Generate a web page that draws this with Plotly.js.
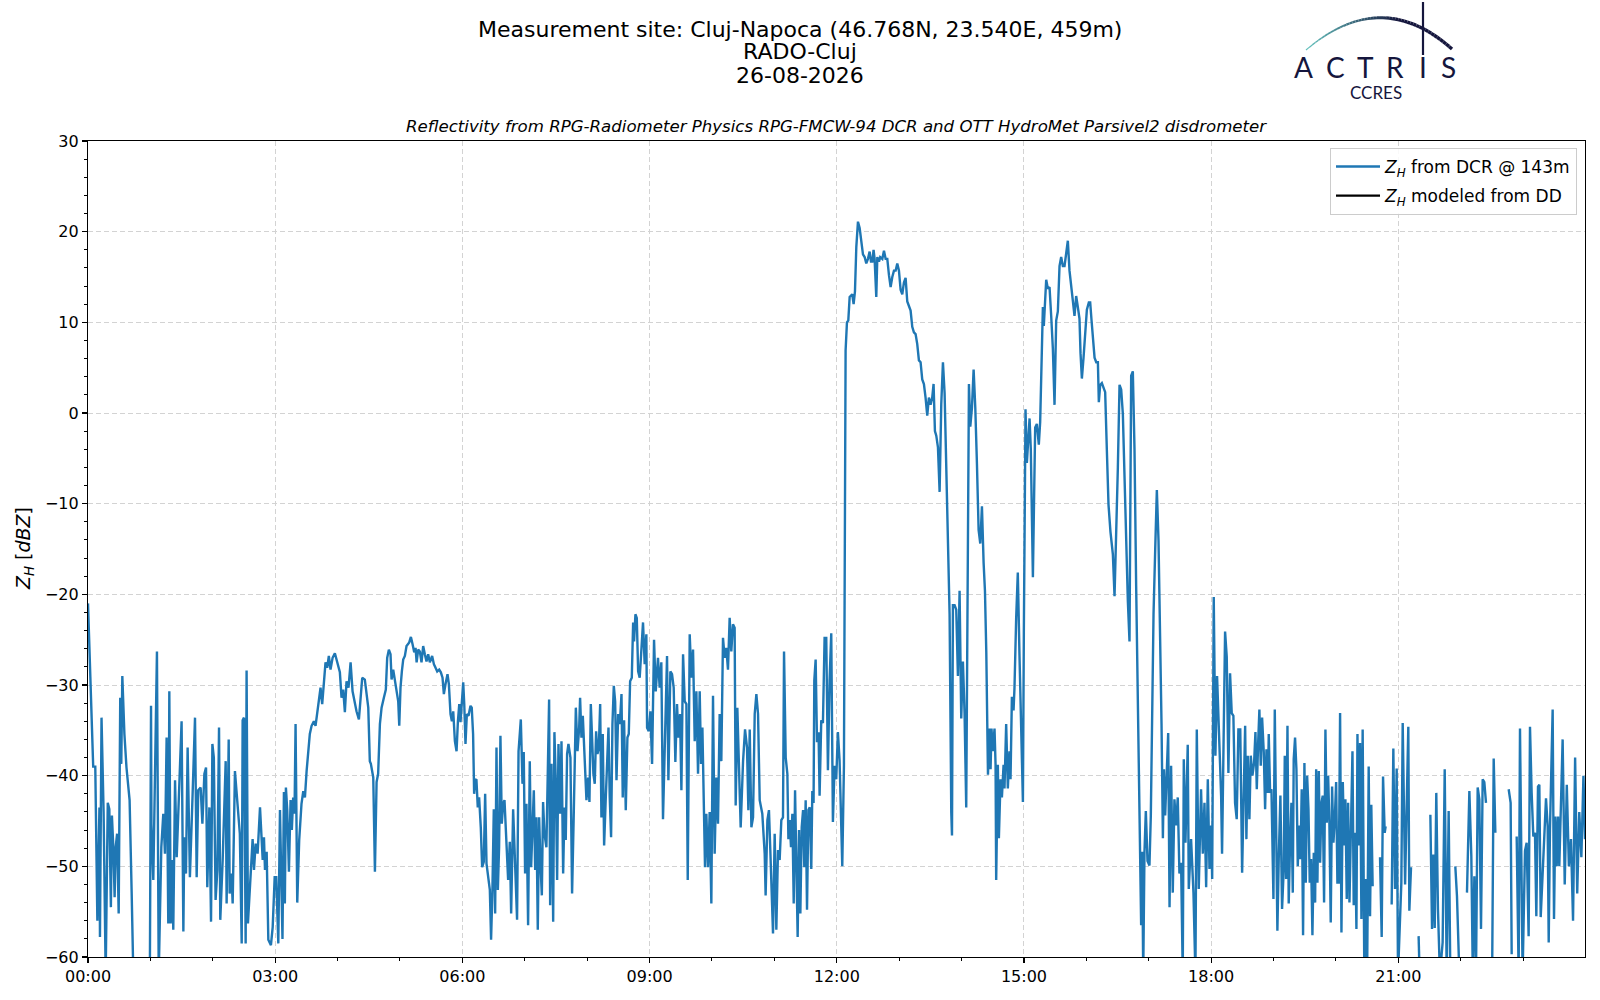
<!DOCTYPE html>
<html>
<head>
<meta charset="utf-8">
<script src="https://cdn.plot.ly/plotly-3.0.1.min.js"></script>
<style>
  body { margin: 0; background: #ffffff; }
  #chart { width: 1600px; height: 1000px; }
</style>
</head>
<body>
<div id="chart"></div>
<script>
// Minutes after 00:00 and Z_H [dBZ], split by stretch of the day.
// Values below -60 run off the bottom of the axis, null marks a gap in the record.
const timeA = [0,5,7,9,11,11.5,13,15,17,19,
  20.5,22,23,24.4,25.6,26.6,28,29.5,31,32,
  33,35,37,40,42,43.6,50,59];
const zhA = [-21,-39,-39,-56,-43.5,-57.8,-33.6,-44,-62,-43,
  -43.7,-54.5,-44.4,-48,-53.4,-47.9,-46.4,-55.2,-31.4,-38.7,
  -29,-35.4,-39.1,-42.7,-53,-62,-75,-75];

const timeB = [60.6,61,62.8,66.3,68,70.5,72.4,74,75.6,77.2,
  78.2,79.5,80.8,82,83.7,85.3,90,91.7,92.6,94.2,
  95.8,98,100.6,102.9,104.5,106,108.3,110,111.9,113.5,
  114.7,116.7,118.3,119.6,121,122.7,124.4,126,127.2,129.5,
  132.4,133.3,135.3,136.2,138,139.1,141.3,142.3,146,147.8,
  148.7,150,151.6,152.5,153.8,158.3,159.6,161.2,163.1,165.4,
  167,168,169.2,170.2,171.8,173.4,175.9,177.6,179.5,181,
  183,184.6];
const zhB = [-32.3,-45.3,-51.5,-26.3,-62,-47.9,-44.2,-48.6,-35.8,-56.3,
  -30.7,-56.3,-49.3,-57,-40.5,-49,-34,-57.2,-46.8,-50.8,
  -36.9,-51.2,-42,-33.6,-51.2,-41.6,-41.3,-45.3,-39.8,-39.1,
  -52.3,-43.5,-56.1,-36.5,-38,-53.7,-50.4,-34.7,-55.9,-49.3,
  -38.4,-54.1,-36,-53,-50.8,-54.1,-39.5,-40.9,-46.4,-58.5,
  -33.9,-33.6,-58.5,-28.4,-56.3,-47,-50.4,-47.5,-48.6,-43.5,
  -46.8,-49.3,-46.8,-50.4,-48.4,-58.1,-58.7,-56.7,-51.2,-51.2,
  -58.5,-43.8];

const timeC = [187,188.4,189.3,190.3,191.6,193.2,194.8,196,197.3,198.6,
  199.6,201.2,203.1,205.3,207,208.6,210.2,211.8,213.3,215,
  217.2,218.8,220.4,222.3,223.6,225.2,226.8,228.4,230,231.6,
  233.2,235.2,237.4,239.6,242.2,243.8,245.4,247,248.6,250.5,
  252.5,254.4,256,258.2,260.5,262,263.7,266.2,267.9,269.5,
  271,272,274.3,275.9,277.5,279,280.7,282.3,284.5,286.4,
  287.7,289.3,290.9,291.9,293.5,295.1,296.7,298.3,299.3,300.5,
  301.8,303.1,304.7,306.3,308.9,310.5,312.1,313.7,315,316,
  317.5,319.1,320.7,322.3,323.9,325.5,327.1,328.7,330.9,332.6,
  334.2,335.8,337.7,339.3,340.9,342.2,343.8,345.7,347,348.6,
  349.9,351.2,352.8,354.4,355.7,357,358.2,359.5,360.8,361.8,
  363,364.3,365.9];
const zhC = [-58,-41.8,-54.1,-41.3,-43.8,-50.6,-42.7,-46,-42.4,-44.2,
  -34.3,-54,-47.1,-43.1,-41.7,-42.4,-39.5,-37.3,-35.4,-34.5,
  -34,-34.5,-33.2,-31.4,-30.3,-32.1,-29.6,-27.5,-28.1,-26.8,
  -28.3,-27,-26.5,-27.4,-28.6,-31.4,-30.5,-33,-29.6,-30.3,
  -27.5,-30.7,-31.8,-32.9,-33.8,-31.4,-29.2,-29.4,-31.4,-32.5,
  -38.4,-38.7,-40.2,-50.6,-40.7,-39.8,-34.3,-32.5,-31.4,-30.5,
  -27,-26.1,-26.6,-29.4,-28.3,-29.4,-30.3,-31.8,-34.5,-30.3,
  -28.5,-27.2,-26.8,-25.7,-25.3,-24.7,-25.5,-26.4,-25.9,-27.5,
  -26.1,-26.3,-27.5,-25.7,-26.6,-27.4,-26.6,-27.5,-26.8,-27.7,
  -28.1,-28.5,-28.3,-28.6,-29.2,-31,-29.9,-28.8,-29.9,-33.2,
  -34,-32.9,-36.2,-37.3,-34,-32.1,-34.1,-32.1,-29.7,-32.1,
  -36.5,-33.2,-33.4];

const timeD = [367.8,369,370.3,371.3,372.3,373.5,374.8,376.1,377.7,379,
  380.6,381.9,383.2,386.4,387.6,388.9,390.2,391.5,392.8,394.1,
  395.3,396.6,397.9,399.2,400.5,402.4,404,405.6,406.9,408.8,
  410.7,412.6,414,416.2,417.8,419,420.3,421.6,423.2,424.8,
  426.1,427.4,428.7,430,431.2,432.5,433.8,435.1,436.4,437.6,
  438.9,440.8,442.1,443.4,444.4,445.7,447.3,448.5,449.8,451.1,
  452.4,454,455.3,456.9,458.2,459.4,460.7,462,463.9,465.5,
  467.1,469.1,470.7,472.3,473.2,474.5,475.8,477.7,479.3,480.9,
  482.2,483.5,484.8,486,487.3,488.6,489.9,491.2,492.5,493.7,
  495,496.3,497.9,499.2,500.5,501.7,503,504.3,505.6,506.9,
  508.2,509.8,511.4,513,514.2,515.5,517.1,518.7,520,521.3,
  522.9,524.2,525.1,526.4,527.7,529];
const zhD = [-32.3,-32.5,-35.4,-42,-40.5,-40.4,-43.5,-42.4,-45.7,-50.1,
  -49.5,-42,-49.7,-52.6,-58.1,-52.6,-43.7,-55.2,-36.9,-52.6,
  -47.9,-35.6,-45.3,-43.1,-42.7,-47.9,-51.5,-47.3,-55.2,-43.7,
  -49,-55.9,-37.3,-33.8,-40.9,-37.4,-50.8,-43.1,-56.5,-38.4,
  -50.1,-46,-41.6,-50.4,-44.6,-57,-44.6,-49.7,-53.2,-42.9,
  -46.4,-47.9,-40.5,-31.6,-54.3,-38.7,-56.1,-35.2,-40.5,-51.5,
  -36.5,-44.2,-36.2,-50.8,-43.5,-47.1,-37.6,-36.5,-38,-53,
  -44.2,-32.5,-37.3,-34.7,-31.4,-35.8,-33.4,-39.1,-42.7,-40.2,
  -42.9,-32.1,-36.9,-39.8,-40.9,-35.1,-37.6,-36.9,-32.1,-44.6,
  -35.4,-47.7,-42.4,-39.1,-34.7,-42.4,-46.8,-34.3,-30.1,-31.8,
  -40.5,-33.2,-34.3,-31,-42.4,-33.9,-43.8,-35.8,-35.4,-29.6,
  -29.2,-23.1,-25.2,-22.2,-22.6,-28.5];

const timeE = [530.5,533.7,535.3,536.9,537.6,539.2,540.8,542.4,544.3,545.9,
  548.1,549.7,551.3,552.9,554.5,556.8,558.1,560,561.6,563.2,
  564.8,566.4,567.7,569.3,570.6,572.2,573.8,575.4,576.7,578.6,
  580.2,581.8,583.4,585,586.6,588.2,589.5,590.8,592.1,593.3,
  594.6,596.2,597.8,599.4,601,602.6,604.2,605.8,607.4,609,
  610.6,612.2,613.8,615.4,617,618.6,620.2,621.8,622.8,624.4,
  626,627.6,629.9,631.8,633.7,635,636.3,637.9,639.5,641.1,
  642.7,644.3,645.9,648.4,650.7,651.6,653.3,654.8,656.1,657.4,
  658.7,660.3,661.9,663.5,665.1,666.7,668.3,669.3,670.9,672.5,
  673.5,674.7,676,677.3,678.6,679.9,681.2,682.4,683.7,685,
  686.3,687.6,688.8,690.1,691.4,692.7];
const zhE = [-29.2,-23.1,-27.7,-24.4,-34.7,-35.1,-32.9,-38.7,-25,-30.7,
  -27,-30.3,-27.5,-44.8,-36.9,-26.8,-40.5,-28.5,-28.8,-30.3,
  -38.5,-32.1,-35.8,-33.2,-41.6,-26.6,-31.8,-32.1,-51.5,-24.4,
  -29.2,-26.1,-36.2,-30.7,-39.8,-30.7,-38.7,-34.7,-42.7,-50.1,
  -44.2,-50.1,-44,-54.1,-31.2,-48.6,-40.2,-45.3,-33.2,-38.4,
  -24.8,-27,-25.9,-28.3,-22.6,-26.3,-23.3,-23.7,-43.3,-32.5,
  -39.1,-45.7,-38.4,-34.9,-36.9,-43.8,-34.9,-45.7,-44.6,-33.2,
  -31,-33.2,-42.7,-44.2,-48.6,-53.2,-44.9,-43.8,-48.2,-53.7,
  -57.4,-46.4,-57,-48.2,-49.3,-44.9,-44.6,-26.3,-38,-39.8,
  -47,-44.9,-47.9,-44.2,-54.1,-41.6,-52.6,-57.8,-46,-55.2,
  -45.7,-43.8,-50.1,-42.7,-54.8,-43.8];

const timeF = [694,695.5,696.5,697.7,698.4,699.7,701,702.5,703.5,705.1,
  706.7,708.3,709.9,711.5,713.1,714.7,716.3,717.9,719.5,721.1,
  722.7,724,725.3,726.9,727.9,728.5,729.8,731.1,732.4,734.9,
  736.2,737.5,738.8,740.4,742,743.6,745.2,746.8,748.4,750,
  751.6,752.9,754.2,755.4,756.4,758,759,760.6,761.8,763.8,
  765.4,767,768.6,770.2,771.8,773.4,775,776.6,778.2,779.8,
  781.4,783,784.6,786.2,787.8,789.4,791,792.6,794.2,795.8,
  797.4,799,800.6,802.2,803.8,805.4,807,808.6,810.2,811.8,
  813.1,814.4,815.7,817.3,818.9,820.5,822.1,823.7,825.3,826.9,
  828.5,830.1,830.8,831.7,833.3,834.9,836.5,838.1,839.7,841.3,
  842.9,844.5,846.1,847.1,848.4,850,851.6,853.2,854.8,856.4,
  858,859.6,861.2,862.5,863.8,865.4];
const zhF = [-43.5,-50.3,-41.7,-43,-29.5,-27.2,-36.3,-35.2,-42.2,-33.9,
  -34.2,-24.8,-24.8,-39.4,-29.5,-24.3,-45.1,-38.9,-40.4,-35.2,
  -38.3,-44.6,-50,-38.9,-12.9,6.9,10,10.2,12.8,13.1,
  12,13.4,18.3,21.1,20.4,18.8,17.5,17.2,16.5,17,
  17.8,16.7,16.7,18,17,12.8,17.2,16.7,17.2,17,
  17.9,17,17,15.2,13.9,15,15.7,15.7,16.5,15.7,
  13.6,13.1,14.4,14.9,12.3,11.8,11.3,9.5,8.9,8.7,
  7.6,5.8,5.6,3.7,3.2,1.7,-0.3,1.7,0.9,1.7,
  3.2,-2,-2.5,-3.8,-8.7,1,5.6,2.2,-6.6,-11.8,
  -22.2,-44,-46.6,-21.2,-21.2,-21.7,-29,-19.6,-33.7,-27.4,
  -33.1,-43.5,-7.7,3.2,-1.5,0.6,4.8,0.6,-5.6,-12.9,
  -14.4,-10.3,-16.5,-19.6,-26.4,-39.9];

const timeG = [866.9,867.9,868.8,870.1,871.7,872.7,873.3,874.9,875.9,877.5,
  878.8,880.4,881.3,882.9,884.5,886.1,887.1,888.4,890,890.9,
  892.5,894.1,895.7,897.3,899,899.9,900.6,901.5,902.8,904.1,
  905.4,906.6,907.6,908.6,909.8,910.8,912.4,914.3,915.6,916.9,
  918.2,919.1,920.1,921.4,923,924.6,926.2,927.8,929.4,931,
  932.6,934.2,935.8,937.4,939,940.6,942.2,943.8,945.4,947,
  948.6,950.2,951.8,953.4,954.4,955.7,957.3,958.9,960.5,962.4,
  963.7,965,966.3,967.9,969.5,971.1,972,973.3,974.9,976.5,
  978.1,979.7,981.3,983.2,985.5,987.1,988.7,990.3,991.9,993.5,
  995.1,996.7,998.3,999.9,1001.5,1003.1,1004.7,1006.3,1007.9,1009.5,
  1011.1,1012.7,1013.7,1014.7,1015.9,1017.2,1018.8,1020.7,1022,1023.3,
  1024.6,1026.2,1027.8,1029.4,1031,1032.3,1033.6,1034.6,1035.8,1037.4,
  1038.7,1040];
const zhG = [-34.8,-39.3,-34.8,-37.3,-34.8,-38.8,-51.5,-38.8,-46.9,-40.4,
  -42.4,-38.8,-41.4,-34.3,-41.4,-37.3,-40.4,-31.3,-32.8,-30.3,
  -22.7,-17.6,-26.7,-33.8,-42.9,-24.2,-11.7,0.4,-5.5,-2.6,
  -0.6,-4,-11.6,-18.1,-9,-1.6,-1.2,-3.5,-1,6.1,
  11.7,9.6,12.2,14.7,13.7,13.9,10.7,7.1,0.9,10.2,
  11.2,16.2,17.2,16.2,16.2,17.7,19,15.7,13.7,12.4,
  10.7,12.9,11.7,10.4,6.6,3.8,6.1,9.1,11.4,12.2,
  12.2,10.2,8.1,6.1,5.6,5.6,1.2,3.1,3.3,2.8,
  2.3,-4,-10.1,-13.1,-15.6,-20.2,-14.1,-6,3.1,2.6,
  -0.1,-7,-15.1,-20.7,-25.2,4.1,4.6,-4,-19.1,-31.8,
  -44.4,-56.5,-48.4,-62,-48.4,-43.9,-49.4,-49.9,-44.4,-29.2,
  -22.2,-15.1,-8.5,-14.1,-24.2,-34.3,-46.9,-39.3,-44.4,-38.3,
  -35.3,-54.5];

const timeH = [1041.5,1043.1,1044.7,1046.3,1047.9,1049.5,1051.1,1052.7,1053.7,1055.3,
  1057.5,1058.5,1060.7,1063,1064.9,1066.2,1068.1,1070.3,1072,1073.6,
  1075.2,1076.8,1078.4,1080,1081,1082.5,1084.1,1085.7,1088,1089.6,
  1090.5,1092.1,1093.4,1095,1096.6,1098.2,1099.8,1101.4,1103,1104.6,
  1106.2,1108,1109.8,1111,1112.7,1113.9,1115.2,1116.8,1118.1,1119.7,
  1121.3,1122.6,1123.9,1125.2,1126.4,1127.7,1129,1130.6,1131.9,1133.2,
  1134.5,1135.4,1136.7,1138,1139.9,1141.2,1142.5,1143.7,1145,1146.6,
  1148.2,1149.8,1150.8,1152.1,1153.4,1154.6,1155.9,1157.2,1158.5,1159.4,
  1160.7,1162,1163.3,1164.6,1165.9,1167.1,1168.4,1169.7,1171,1172.3,
  1173.6,1174.8,1176.1,1177.4,1178.7,1180,1181,1182.2,1183.5,1184.8,
  1186.1,1187.3,1188.6,1189.9,1191.2,1192.5,1193.7,1195,1196.3,1197.6,
  1198.9,1200.2,1201.4,1202.7,1204,1205.3,1206.6,1207.9,1209.1,1210.4,
  1211.7,1213,1214.6,1215.9,1217.1,1218.4,1219.7,1220.7,1222];
const zhH = [-38.9,-52.9,-42.6,-45.5,-42.4,-50.8,-49.6,-62,-38.2,-47.4,
  -36.6,-52.5,-47,-52.9,-62,-34.9,-52.5,-41.5,-48.6,-43,
  -52.3,-40.4,-50.3,-45.5,-51.4,-20.3,-37.8,-29,-36.4,-42.2,
  -48.6,-32,-24.1,-26.9,-39.7,-28.7,-33.1,-33.4,-43,-44.8,
  -34.9,-34.9,-50.7,-43.7,-34.5,-47,-37.8,-44.8,-37.8,-40,
  -38.6,-35.2,-41.5,-36.4,-32.7,-38.9,-33.6,-37.4,-43.7,-37.1,
  -41.9,-35.4,-41.9,-41.5,-53.6,-32.7,-49.6,-57.1,-49.2,-42.2,
  -54.7,-50.3,-37.8,-51.4,-34.5,-54.1,-47.4,-43,-52.9,-38.2,
  -35.8,-39.3,-50,-45.5,-49.2,-41.5,-57.6,-38.6,-51.8,-40,
  -43.7,-51.8,-49.2,-57.6,-48.5,-54,-39.3,-51.8,-39.5,-49.6,
  -43,-42.2,-54,-34.9,-45.2,-40,-45.2,-56.2,-41.2,-47.4,
  -44.8,-40.7,-51.8,-51.8,-33.1,-57.3,-40.7,-47.7,-42.6,-53.6,
  -43,-54,-44.8,-37.3,-54.3,-46.3,-56.9,-35.4,-47.7];

const timeI = [1223.2,1224.5,1225.7,1227.3,1228.9,1230,1231.5,1232.8,1234,1235.3,
  1238,1242.4,1244,1245.3,1246.9,1247.8,1250,1253.6,1255.2,1256.8,
  1258.4,1259.7,1262.9,1264.2,1266.5,1269.6,1270.6,1272.2,1275,1279.5,
  1280.5,1284,1290.8,1292.4,1293.7,1295,1296.5,1298.1,1300,1302.6,
  1304.6,1306.5,1308.4,1310,1312,1314.8,1316.4,1318.7,1322,1326,
  1328.3,1330.2,1331.6,1333.1,1334.7,1336.3,1337.9,1339.5,1341.1,1342.7,
  1344.3,1347,1350.2,1351.7,1353.3,1357,1366.1,1368,1369,1371,
  1373.8,1375.7,1377,1379.5,1381.8,1383.4,1385.3,1386.6,1388.2,1389.8,
  1391.4,1392.7,1394.3,1395.6,1396.9,1398.2,1399.5,1400.7,1402,1403.6,
  1404.6,1405.8,1407.1,1408.4,1409.7,1411,1412.3,1413.6,1414.8,1416,
  1418,1420,1422,1424,1426,1428,1430,1432,1434,1436,
  1438,1439.5];
const zhI = [-36.4,-55.8,-34.9,-62,-51.4,-62,-39,-55.5,-43.2,-52.2,
  null,-49,-57.8,-40.1,-46.3,-45.6,null,-54.2,-37,-52.5,
  -39.2,-62,-51.8,-34.2,-52,-34.6,-54.9,-50.1,null,-57.7,
  -62,null,-44.3,-56.9,-48.7,-56.8,-41.9,-54.7,-62,-58.4,
  -39.3,-62,-43.9,-62,null,-50,-53.3,-62,null,-52.9,
  -41.7,-48.9,-62,-51.1,-62,-41.3,-42.6,-56.9,-40.4,-40.7,
  -43,null,-62,-38.1,-46.3,null,-41.5,-43,-59.7,null,
  -46.7,-62,-34.8,-62,-48.3,-47.4,-57.7,-34.6,-41.9,-46.7,
  -46.3,-55.5,-41.2,-41,-55.6,-52.2,-47.8,-44.5,-42.5,-45.6,
  -58.4,-46,-40.1,-32.7,-55.8,-44.5,-50,-44.5,-50,-45,
  -36,-52,-41,-50,-47,-56,-38,-53,-44,-49,
  -40,-47];

const tickHours = ['00:00','03:00','06:00','09:00','12:00','15:00','18:00','21:00'];
const logoLetters = ['A','C','T','R','I','S'];

const dayStart = Date.UTC(2026, 7, 26);
const minutes = [].concat(timeA, timeB, timeC, timeD, timeE, timeF, timeG, timeH, timeI);
const zhDcr = [].concat(zhA, zhB, zhC, zhD, zhE, zhF, zhG, zhH, zhI);
const xTimes = minutes.map(m => dayStart + m * 60000);

// Plot box in page pixels (left, right, top, bottom).
const L = 88, R = 1585, T = 141, B = 957;
function fx(px) { return (px - L) / (R - L); }
function fy(py) { return (B - py) / (B - T); }

const navy = '#15163d';

// ACTRIS logo arc, teal fading into navy.
const shapes = [];
const N = 48;
function bez(t) {
  const p0 = [1306, 50], c = [1381, -14], p2 = [1452, 49];
  const u = 1 - t;
  return [u*u*p0[0] + 2*u*t*c[0] + t*t*p2[0], u*u*p0[1] + 2*u*t*c[1] + t*t*p2[1]];
}
for (let i = 0; i < N; i++) {
  const t0 = i / N, t1 = (i + 1) / N;
  const a = bez(t0), b = bez(t1);
  const k = Math.min(1, t0 / 0.62);
  const r = Math.round(98 + (21 - 98) * k);
  const g = Math.round(192 + (22 - 192) * k);
  const bl = Math.round(188 + (61 - 188) * k);
  shapes.push({
    type: 'line', xref: 'paper', yref: 'paper',
    x0: fx(a[0]), y0: fy(a[1]), x1: fx(b[0]), y1: fy(b[1]),
    line: {color: 'rgb(' + r + ',' + g + ',' + bl + ')', width: 1.2 + 2.2 * Math.min(1, t0 / 0.6)}
  });
}
shapes.push({
  type: 'line', xref: 'paper', yref: 'paper',
  x0: fx(1423), y0: fy(2), x1: fx(1423), y1: fy(55),
  line: {color: navy, width: 2.2}
});

const annotations = [
  {text: 'Measurement site: Cluj-Napoca (46.768N, 23.540E, 459m)', x: fx(800), y: fy(29), size: 22},
  {text: 'RADO-Cluj', x: fx(800), y: fy(52), size: 22},
  {text: '26-08-2026', x: fx(800), y: fy(75), size: 22},
  {text: '<i>Reflectivity from RPG-Radiometer Physics RPG-FMCW-94 DCR and OTT HydroMet Parsivel2 disdrometer</i>', x: 0.5, y: fy(126), size: 16.6}
].map(a => ({
  text: a.text, x: a.x, y: a.y, xref: 'paper', yref: 'paper',
  xanchor: 'center', yanchor: 'middle', showarrow: false,
  font: {family: 'DejaVu Sans', size: a.size, color: 'black'}
}));

annotations.push({
  text: '<i>Z</i><sub><i>H</i></sub> [<i>dBZ</i>]',
  x: fx(24), y: 0.5, xref: 'paper', yref: 'paper',
  xanchor: 'center', yanchor: 'middle', textangle: -90, showarrow: false,
  font: {family: 'DejaVu Sans', size: 19, color: 'black'}
});

// Logo lettering.
const letterX = [1303, 1335, 1365, 1395, 1423, 1448];
for (let i = 0; i < logoLetters.length; i++) {
  annotations.push({
    text: logoLetters[i], x: fx(letterX[i]), y: fy(67), xref: 'paper', yref: 'paper',
    xanchor: 'center', yanchor: 'middle', showarrow: false,
    font: {family: 'Lato', size: 28, color: navy}
  });
}
annotations.push({
  text: 'CCRES', x: fx(1376), y: fy(93), xref: 'paper', yref: 'paper',
  xanchor: 'center', yanchor: 'middle', showarrow: false,
  font: {family: 'Lato', size: 17, color: navy}
});

const data = [
  {
    x: xTimes, y: zhDcr, type: 'scatter', mode: 'lines',
    name: '<i>Z</i><sub><i>H</i></sub> from DCR @ 143m',
    legendgroup: 'dcr',
    line: {color: '#1f77b4', width: 2.4},
    connectgaps: false, hoverinfo: 'skip'
  },
  {
    x: [dayStart, dayStart], y: [null, null], type: 'scatter', mode: 'lines',
    name: '<i>Z</i><sub><i>H</i></sub> modeled from DD',
    legendgroup: 'dd',
    line: {color: 'black', width: 2.4}
  }
];

const axisCommon = {
  showline: true, mirror: true, linecolor: 'black', linewidth: 1.1,
  ticks: 'outside', ticklen: 5, tickwidth: 1.1, tickcolor: 'black',
  showgrid: true, gridcolor: '#d3d3d3', gridwidth: 1, griddash: '5px,3px',
  zeroline: false,
  tickfont: {family: 'DejaVu Sans', size: 16, color: 'black'}
};

const layout = {
  width: 1600, height: 1000,
  margin: {l: L, r: 1600 - R, t: T, b: 1000 - B},
  paper_bgcolor: 'white', plot_bgcolor: 'white',
  font: {family: 'DejaVu Sans', size: 16, color: 'black'},
  showlegend: true,
  legend: {
    x: fx(1577), y: fy(148), xanchor: 'right', yanchor: 'top',
    bgcolor: 'rgba(255,255,255,0.85)', bordercolor: '#cccccc', borderwidth: 1,
    font: {family: 'DejaVu Sans', size: 17, color: 'black'},
    traceorder: 'grouped', tracegroupgap: 4, itemwidth: 44
  },
  xaxis: Object.assign({}, axisCommon, {
    type: 'date',
    range: [dayStart, dayStart + 1439.5 * 60000],
    tickmode: 'array',
    tickvals: tickHours.map((h, i) => dayStart + i * 3 * 3600000),
    ticktext: tickHours,
    minor: {dtick: 3600000, tick0: dayStart, ticks: 'outside', ticklen: 3, tickwidth: 1, tickcolor: 'black', showgrid: false}
  }),
  yaxis: Object.assign({}, axisCommon, {
    range: [-60, 30], tick0: 0, dtick: 10,
    minor: {dtick: 2, ticks: 'outside', ticklen: 3, tickwidth: 1, tickcolor: 'black', showgrid: false}
  }),
  shapes: shapes,
  annotations: annotations
};

Plotly.newPlot('chart', data, layout, {staticPlot: true});
</script>
</body>
</html>
